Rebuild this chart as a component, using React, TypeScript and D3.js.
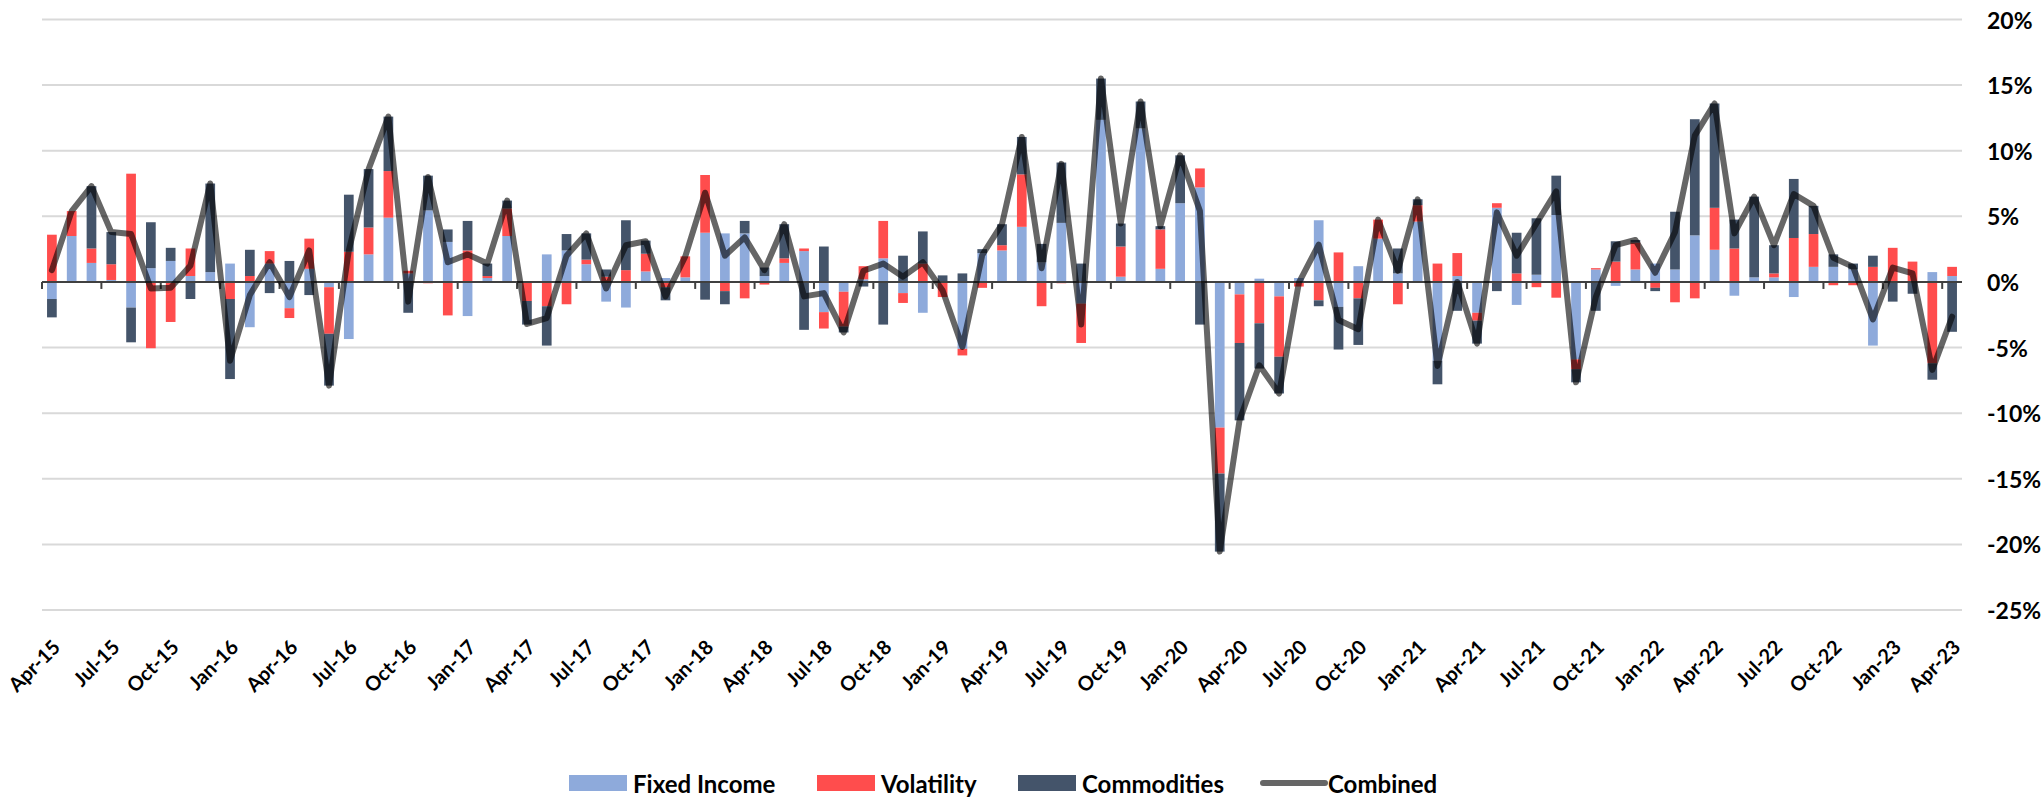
import { useMemo } from "react";
import * as d3 from "d3";

const WIDTH = 2043;
const HEIGHT = 799;
const PLOT = { left: 42, right: 1962, top: 19.5, bottom: 610 };
const FONT = "Lato, 'Open Sans', sans-serif";

// months Apr-15 .. Apr-23
const START = new Date(2015, 3, 1);
const months = d3.range(97).map((i) => d3.timeMonth.offset(START, i));
const fmtMonth = d3.timeFormat("%b-%y");

// monthly returns, %
const fixedIncome = [
  -1.3, 3.5, 1.45, 0.15, -1.95, 1.05, 1.6, 0.45, 0.75, 1.4, -3.45, 1.4,
  -2.0, 1.0, -0.4, -4.35, 2.1, 4.9, 0.65, 5.45, 3.05, -2.6, 0.3, 3.5,
  0.0, 2.1, 2.4, 1.35, -1.5, -1.95, 0.8, 0.3, 0.35, 3.75, 3.7, 3.7,
  0.45, 1.45, 2.35, -2.3, -0.75, 0.2, 1.8, -0.85, -2.35, 0.0, -5.1, 2.2,
  2.4, 4.2, 1.5, 4.5, -1.65, 12.35, 0.4, 11.7, 1.0, 6.0, 7.2, -11.1,
  -0.95, 0.25, -1.1, 0.3, 4.7, -1.9, 1.2, 3.3, 0.65, 4.6, -6.0, 0.45,
  -2.35, 5.65, -1.75, 0.55, 5.1, -5.9, 0.95, -0.3, 0.95, 1.4, 0.95, 3.55,
  2.45, -1.05, 0.35, 0.35, -1.15, 1.15, 1.15, 0.95, -4.85, 0.0, 0.0, 0.75,
  0.45,
];
const volatility = [
  3.6, 1.9, 1.1, 1.2, 8.25, -5.05, -3.05, 2.1, 0.0, -1.3, 0.45, 0.95,
  -0.75, 2.3, -3.55, 2.3, 2.05, 3.55, 0.2, -0.1, -2.55, 2.4, 0.15, 2.1,
  -1.45, -1.85, -1.7, 0.35, 0.4, 0.9, 1.35, -0.4, 1.6, 4.4, -0.7, -1.25,
  -0.2, 0.35, 0.2, -1.25, -2.65, 1.0, 2.85, -0.75, 1.4, -1.15, -0.5, -0.45,
  0.4, 4.0, -1.85, -0.1, -3.0, 0.0, 2.3, 0.0, 3.0, 0.0, 1.45, -3.5,
  -3.7, -3.15, -4.6, -0.35, -1.4, 2.25, -1.25, 1.45, -1.7, 1.25, 1.4, 1.75,
  -0.6, 0.35, 0.65, -0.4, -1.2, -0.75, 0.1, 1.55, 2.05, -0.45, -1.55, -1.25,
  3.2, 2.55, 0.0, 0.3, 3.35, 2.5, -0.25, -0.25, 1.15, 2.6, 1.55, -6.2,
  0.7,
];
const commodities = [
  -1.4, 0.0, 4.75, 2.45, -2.65, 3.5, 1.0, -1.3, 6.75, -6.1, 2.0, -0.85,
  1.6, -1.0, -3.95, 4.35, 4.45, 4.15, -2.35, 2.65, 0.95, 2.25, 0.95, 0.6,
  -1.8, -3.0, 1.25, 2.0, 0.55, 3.8, 1.0, -1.0, 0.0, -1.35, -1.0, 0.95,
  0.65, 2.6, -3.65, 2.7, -0.45, -0.35, -3.25, 2.0, 2.45, 0.5, 0.65, 0.3,
  1.6, 2.85, 1.4, 4.6, 1.4, 3.15, 1.75, 2.05, 0.25, 3.65, -3.25, -5.95,
  -5.9, -3.45, -2.8, 0.0, -0.45, -3.25, -3.55, 0.0, 1.9, 0.45, -1.8, -2.2,
  -1.75, -0.7, 3.1, 4.3, 3.0, -1.0, -2.2, 1.55, 0.2, -0.25, 4.4, 8.85,
  7.95, 2.2, 6.15, 2.15, 4.5, 2.15, 0.95, 0.45, 0.85, -1.5, -0.9, -1.25,
  -3.8,
];
const combined = [
  0.9, 5.4, 7.3, 3.8, 3.65, -0.5, -0.45, 1.25, 7.5, -6.0, -1.0, 1.5,
  -1.15, 2.4, -7.9, 2.4, 8.6, 12.6, -1.5, 8.0, 1.5, 2.1, 1.4, 6.2,
  -3.2, -2.75, 2.0, 3.7, -0.5, 2.8, 3.1, -1.1, 1.95, 6.8, 2.0, 3.4,
  0.9, 4.4, -1.1, -0.85, -3.85, 0.85, 1.4, 0.4, 1.5, -0.65, -4.95, 2.05,
  4.4, 11.05, 1.05, 9.0, -3.25, 15.5, 4.45, 13.75, 4.25, 9.65, 5.4, -20.55,
  -10.55, -6.35, -8.5, -0.05, 2.85, -2.9, -3.6, 4.75, 0.85, 6.3, -6.4, 0.0,
  -4.7, 5.3, 2.0, 4.45, 6.9, -7.65, -1.15, 2.8, 3.2, 0.7, 3.8, 11.15,
  13.6, 3.7, 6.5, 2.8, 6.7, 5.8, 1.85, 1.15, -2.85, 1.1, 0.65, -6.7,
  -2.65,
];

const seriesKeys = ["Fixed Income", "Volatility", "Commodities"];
const seriesColors = ["#8eaadb", "#ff4d4d", "#44546a"];
const yTicks = [-25, -20, -15, -10, -5, 0, 5, 10, 15, 20];

export default function App() {
  const x = useMemo(
    () =>
      d3
        .scaleBand<number>()
        .domain(d3.range(months.length))
        .range([PLOT.left, PLOT.right])
        .padding(0),
    []
  );
  const y = useMemo(
    () => d3.scaleLinear().domain([-25, 20]).range([PLOT.bottom, PLOT.top]),
    []
  );
  const bw = x.bandwidth();
  const barW = bw * 0.49;
  const cx = (i: number) => (x(i) as number) + bw / 2;

  const rows = months.map((m, i) => ({
    i,
    "Fixed Income": fixedIncome[i],
    Volatility: volatility[i],
    Commodities: commodities[i],
  }));
  const stacked = d3
    .stack<any>()
    .keys(seriesKeys)
    .offset(d3.stackOffsetDiverging)(rows);

  const line = d3
    .line<number>()
    .x((d, i) => cx(i))
    .y((d) => y(d));

  const colorScale = d3.scaleOrdinal<string>().domain(seriesKeys).range(seriesColors);

  const legendItems = [
    { name: "Fixed Income", x: 569, type: "rect" },
    { name: "Volatility", x: 817, type: "rect" },
    { name: "Commodities", x: 1018, type: "rect" },
    { name: "Combined", x: 1263, type: "line" },
  ];
  const legendY = 783;

  return (
    <svg
      width={WIDTH}
      height={HEIGHT}
      style={{ position: "absolute", left: 0, top: 0, background: "#fff" }}
      fontFamily={FONT}
    >
      {/* grid */}
      <g>
        {yTicks.map((t) => (
          <line
            key={t}
            x1={PLOT.left}
            x2={PLOT.right}
            y1={y(t)}
            y2={y(t)}
            stroke="#d9d9d9"
            strokeWidth={2}
          />
        ))}
      </g>

      {/* bars */}
      <g>
        {stacked.map((s) => (
          <g key={s.key} fill={colorScale(s.key)}>
            {s.map((d, i) => {
              const y0 = y(d[0]);
              const y1 = y(d[1]);
              return (
                <rect
                  key={i}
                  x={cx(i) - barW / 2}
                  width={barW}
                  y={Math.min(y0, y1)}
                  height={Math.abs(y0 - y1)}
                />
              );
            })}
          </g>
        ))}
      </g>

      {/* zero axis + ticks */}
      <line
        x1={PLOT.left}
        x2={PLOT.right}
        y1={y(0)}
        y2={y(0)}
        stroke="#404040"
        strokeWidth={2}
      />
      {d3.range(0, months.length + 1, 3).map((k) => {
        const tx = PLOT.left + k * bw;
        return (
          <line key={k} x1={tx} x2={tx} y1={y(0)} y2={y(0) + 7} stroke="#404040" strokeWidth={2} />
        );
      })}

      {/* combined line */}
      <path
        d={line(combined) || ""}
        fill="none"
        stroke="#000"
        strokeOpacity={0.6}
        strokeWidth={6}
        strokeLinejoin="round"
        strokeLinecap="round"
      />

      {/* y labels on right */}
      {yTicks.map((t) => (
        <text
          key={t}
          x={1987}
          y={y(t)}
          dominantBaseline="central"
          fontSize={23}
          fontWeight={700}
          fill="#000"
        >
          {`${t}%`}
        </text>
      ))}

      {/* x labels */}
      {months.map((m, i) =>
        i % 3 === 0 ? (
          <text
            key={i}
            transform={`translate(${cx(i) + 4},${643}) rotate(-45)`}
            textAnchor="end"
            dominantBaseline="central"
            fontSize={20}
            fontWeight={700}
            fill="#000"
          >
            {fmtMonth(m)}
          </text>
        ) : null
      )}

      {/* legend */}
      {legendItems.map((it, k) => (
        <g key={it.name}>
          {it.type === "rect" ? (
            <rect x={it.x} y={legendY - 8} width={58} height={16} fill={seriesColors[k]} />
          ) : (
            <line
              x1={it.x}
              x2={it.x + 62}
              y1={legendY}
              y2={legendY}
              stroke="#000"
              strokeOpacity={0.6}
              strokeWidth={6}
              strokeLinecap="round"
            />
          )}
          <text
            x={it.x + (it.type === "rect" ? 64 : 65)}
            y={legendY}
            dominantBaseline="central"
            fontSize={24}
            fontWeight={700}
            fill="#000"
          >
            {it.name}
          </text>
        </g>
      ))}
    </svg>
  );
}
